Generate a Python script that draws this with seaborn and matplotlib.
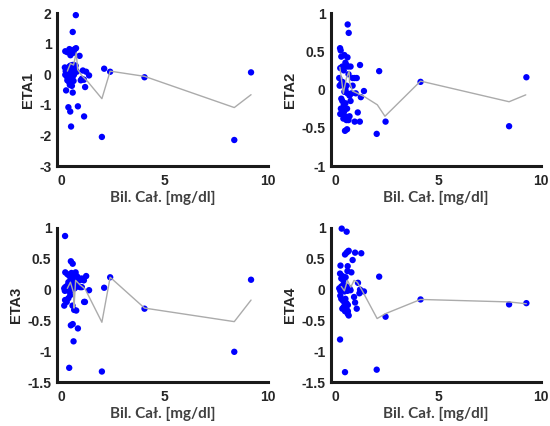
import matplotlib
matplotlib.use("Agg")
import matplotlib.pyplot as plt
import seaborn as sns

# Total bilirubin [mg/dl] and individual random effects (ETA1..ETA4)
bil1 = [0.71, 0.56, 0.20, 0.30, 0.40, 0.50, 0.66, 0.72, 0.45, 0.89, 0.60,
        0.18, 0.22, 0.25, 0.30, 0.35, 0.40, 0.45, 0.50, 0.55, 0.60, 0.65, 0.70, 0.75,
        0.20, 0.28, 0.33, 0.42, 0.48, 0.52, 0.58, 0.62, 0.68,
        0.30, 0.38, 0.45, 0.50, 0.55, 0.60, 0.42, 0.52,
        1.05, 1.21, 1.35, 0.95, 1.00, 1.10, 1.16,
        0.24, 0.56, 0.35, 0.44, 0.81, 0.48, 1.11,
        1.97, 2.08, 2.37, 4.03, 8.37, 9.18]
eta1 = [1.93, 1.38, 0.75, 0.72, 0.82, 0.78, 0.82, 0.85, 0.62, 0.60, 0.70,
        0.22, 0.10, 0.05, 0.20, 0.15, 0.25, 0.28, 0.05, 0.30, 0.30, 0.25, 0.28, 0.08,
        -0.02, -0.08, 0.00, 0.02, -0.05, 0.12, 0.10, -0.02, 0.18,
        -0.20, -0.25, -0.30, -0.15, -0.10, -0.22, -0.35, -0.38,
        0.12, 0.08, -0.04, -0.20, -0.15, -0.18, -0.42,
        -0.53, -0.60, -1.08, -1.22, -1.05, -1.71, -1.38,
        -2.05, 0.18, 0.08, -0.10, -2.15, 0.06]

bil2 = [0.61, 0.66, 0.24, 0.27, 0.45, 0.60, 0.30, 0.50, 0.55, 0.25, 0.35, 0.42,
        0.62, 0.75, 1.21, 0.65, 0.85, 0.95, 1.05, 0.20, 0.30, 0.22, 0.35, 0.40,
        0.50, 0.55, 0.45, 0.60, 0.70, 0.80, 0.85, 1.40, 1.00, 1.25,
        0.30, 0.35, 0.42, 0.50, 0.58, 0.75, 0.28, 0.38, 0.45, 0.25, 0.50,
        0.40, 0.55, 0.70, 0.95, 1.10, 1.20, 0.48, 0.58, 0.65,
        2.02, 2.14, 2.45, 4.15, 8.45, 9.29]
eta2 = [0.85, 0.74, 0.54, 0.51, 0.45, 0.42, 0.43, 0.35, 0.32, 0.28, 0.30, 0.25,
        0.30, 0.30, 0.32, 0.20, 0.15, 0.15, 0.15, 0.15, 0.08, 0.05, 0.10, 0.05,
        0.00, 0.05, -0.03, -0.05, -0.08, -0.05, 0.05, -0.02, -0.05, -0.10,
        -0.12, -0.15, -0.20, -0.18, -0.25, -0.15, -0.25, -0.30, -0.28, -0.32, -0.35,
        -0.38, -0.40, -0.35, -0.42, -0.30, -0.42, -0.54, -0.52, -0.40,
        -0.58, 0.24, -0.42, 0.10, -0.48, 0.16]

bil3 = [0.19, 0.47, 0.56,
        0.20, 0.30, 0.40, 0.50, 0.55, 0.60, 0.65, 0.70, 0.75, 0.80, 0.85, 0.90,
        1.00, 1.10, 0.45, 0.35, 0.60, 0.70, 1.21,
        0.15, 0.20, 0.25, 0.30, 0.35, 0.40, 0.45, 0.50, 0.55, 0.18, 0.28, 0.65,
        0.80, 0.92, 1.00, 1.35,
        0.19, 0.15, 0.27, 0.35, 0.44, 0.55, 0.63, 0.73, 1.11, 1.15,
        0.47, 0.56, 0.81, 0.60, 0.39,
        1.97, 2.08, 2.37, 4.03, 8.37, 9.18]
eta3 = [0.87, 0.46, 0.42,
        0.28, 0.25, 0.22, 0.27, 0.20, 0.25, 0.20, 0.28, 0.22, 0.20, 0.18, 0.15,
        0.18, 0.15, 0.15, 0.12, 0.10, 0.12, 0.22,
        0.02, 0.04, 0.00, 0.03, -0.02, 0.01, 0.05, -0.01, 0.03, -0.02, 0.06, 0.02,
        0.05, 0.04, 0.04, -0.01,
        -0.17, -0.26, -0.20, -0.14, -0.09, -0.26, -0.33, -0.34, -0.20, -0.20,
        -0.58, -0.56, -0.63, -0.84, -1.27,
        -1.33, 0.03, 0.20, -0.31, -1.01, 0.16]

bil4 = [0.32, 0.56, 0.48, 0.56, 0.63, 0.66, 0.97, 1.27, 0.85, 0.26, 0.61,
        0.60, 0.79, 0.24, 0.35, 0.43, 0.51, 0.40, 0.30,
        0.20, 0.25, 0.30, 0.35, 0.40, 0.45, 0.50, 0.55, 0.60, 0.65, 0.70, 0.75,
        1.11, 1.21, 1.40, 1.18, 0.92, 0.97, 1.05,
        0.25, 0.30, 0.38, 0.45, 0.50, 0.55, 0.62,
        0.35, 0.48, 0.62, 0.66, 0.61, 0.42, 0.55,
        0.24, 0.48,
        2.02, 2.14, 2.45, 4.15, 8.45, 9.29]
eta4 = [0.99, 0.94, 0.57, 0.60, 0.62, 0.63, 0.60, 0.59, 0.48, 0.39, 0.38,
        0.30, 0.28, 0.26, 0.22, 0.20, 0.20, 0.15, 0.18,
        0.02, -0.02, 0.05, 0.00, 0.08, -0.03, 0.02, 0.05, -0.02, 0.00, 0.02, -0.01,
        0.11, 0.00, -0.03, -0.06, -0.12, -0.21, -0.31,
        -0.10, -0.15, -0.18, -0.20, -0.15, -0.22, -0.25,
        -0.31, -0.35, -0.35, -0.42, -0.39, -0.28, -0.32,
        -0.81, -1.34,
        -1.30, 0.21, -0.44, -0.16, -0.24, -0.22]

# Smoothed trend through each panel
trend_x1 = [0.30, 0.45, 0.60, 0.73, 0.80, 1.00, 1.27, 1.97, 2.37, 4.03, 8.37, 9.18]
trend_y1 = [0.10, 0.35, 0.30, 0.70, 0.15, -0.05, -0.23, -0.80, 0.10, -0.07, -1.09, -0.67]
trend_x2 = [0.23, 0.40, 0.55, 0.68, 0.70, 0.84, 1.40, 2.05, 2.42, 4.15, 8.45, 9.26]
trend_y2 = [0.29, -0.05, 0.15, 0.24, 0.10, -0.02, -0.09, -0.20, -0.35, 0.11, -0.16, -0.07]
trend_x3 = [0.30, 0.45, 0.60, 0.62, 0.70, 0.90, 1.16, 1.97, 2.37, 4.03, 8.37, 9.18]
trend_y3 = [0.02, 0.12, -0.05, -0.30, 0.15, 0.08, 0.01, -0.53, 0.20, -0.30, -0.52, -0.17]
trend_x4 = [0.30, 0.45, 0.60, 0.76, 0.92, 1.08, 1.32, 2.04, 2.45, 4.15, 8.45, 9.29]
trend_y4 = [0.05, -0.02, 0.15, 0.04, 0.15, 0.12, -0.02, -0.47, -0.39, -0.16, -0.20, -0.23]

labels = ["ETA1", "ETA2", "ETA3", "ETA4"]
ylims = [(-3, 2), (-1, 1), (-1.5, 1), (-1.5, 1)]
yticks = [[-3, -2, -1, 0, 1, 2], [-1, -0.5, 0, 0.5, 1],
          [-1.5, -1, -0.5, 0, 0.5, 1], [-1.5, -1, -0.5, 0, 0.5, 1]]
xticks = [0, 5, 10]
xlabel = "Bil. Cał. [mg/dl]"

sns.set_style("white")
plt.rcParams["font.family"] = ["Liberation Sans", "DejaVu Sans"]

fig = plt.figure(figsize=(5.5, 4.26), dpi=100)
W, H = 550, 426
boxes = [(57, 13, 211, 153), (331, 13, 210, 153), (57, 228, 211, 154), (331, 228, 210, 154)]

panels = [(bil1, eta1, trend_x1, trend_y1), (bil2, eta2, trend_x2, trend_y2),
          (bil3, eta3, trend_x3, trend_y3), (bil4, eta4, trend_x4, trend_y4)]

for i, ((bx, ey, tx, ty), (l, t, w, h)) in enumerate(zip(panels, boxes)):
    ax = fig.add_axes([l / W, 1 - (t + h) / H, w / W, h / H])
    sns.scatterplot(x=bx, y=ey, ax=ax, color="#0000FF", s=21, edgecolor="none",
                    linewidth=0, zorder=2, clip_on=False)
    sns.lineplot(x=tx, y=ty, ax=ax, color="#ABABAB", linewidth=1.0,
                 estimator=None, sort=False, zorder=3)
    ax.set_xlim(-0.2, 10)
    ax.set_ylim(*ylims[i])
    ax.set_xticks(xticks)
    ax.set_yticks(yticks[i])
    ax.set_yticklabels([f"{v:g}" for v in yticks[i]])
    for side in ("top", "right"):
        ax.spines[side].set_visible(False)
    for side in ("left", "bottom"):
        ax.spines[side].set_linewidth(2.2)
        ax.spines[side].set_color("#1a1a1a")
    ax.tick_params(direction="in", length=3, width=1.2, color="#1a1a1a",
                   labelsize=10, labelcolor="#262626", pad=4)
    ax.tick_params(axis="x", pad=6)
    for lab in ax.get_xticklabels() + ax.get_yticklabels():
        lab.set_fontweight("bold")
    ax.set_ylabel(labels[i], fontsize=10.5, fontweight="bold", color="#262626",
                  labelpad=3)
    ax.set_xlabel(xlabel, fontsize=11, fontweight="bold", color="#404040",
                  family=["Lato", "DejaVu Sans"], labelpad=2)

fig.savefig("out.png", dpi=100)
